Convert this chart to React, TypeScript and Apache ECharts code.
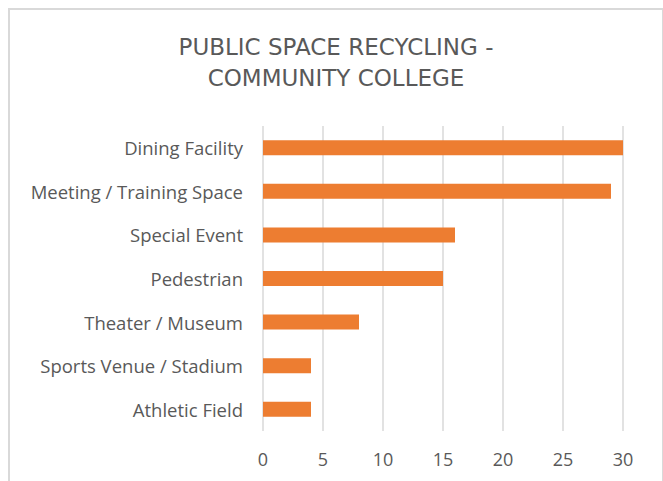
import React, { useEffect, useRef } from "react";
import * as echarts from "echarts";

const categories = [
  "Dining Facility",
  "Meeting / Training Space",
  "Special Event",
  "Pedestrian",
  "Theater / Museum",
  "Sports Venue / Stadium",
  "Athletic Field",
];
const values = [30, 29, 16, 15, 8, 4, 4];
const titleText = "PUBLIC SPACE RECYCLING -\nCOMMUNITY COLLEGE";

export default function App() {
  const ref = useRef<HTMLDivElement>(null);
  useEffect(() => {
    document.body.style.overflow = "hidden";
    document.documentElement.style.overflow = "hidden";
    const chart = echarts.init(ref.current!, undefined, { renderer: "svg" });
    chart.setOption({
      animation: false,
      backgroundColor: "#ffffff",
      title: {
        text: titleText,
        left: 331,
        top: 26,
        textAlign: "center",
        textStyle: {
          fontFamily: "DejaVu Sans",
          fontSize: 23,
          fontWeight: "normal",
          color: "#595959",
          lineHeight: 31.5,
        },
      },
      grid: { left: 263, right: 40, top: 126, bottom: 50, containLabel: false },
      xAxis: {
        type: "value",
        min: 0,
        max: 30,
        interval: 5,
        axisLine: { show: false },
        axisTick: { show: false },
        splitLine: { show: true, lineStyle: { color: "#d9d9d9", width: 1.5 } },
        axisLabel: {
          color: "#595959",
          fontFamily: "Open Sans",
          fontSize: 18,
          margin: 19,
        },
      },
      yAxis: {
        type: "category",
        data: categories,
        inverse: true,
        axisLine: { show: false },
        axisTick: { show: false },
        axisLabel: {
          color: "#595959",
          fontFamily: "Open Sans",
          fontSize: 18.5,
          margin: 20,
        },
      },
      series: [
        {
          type: "bar",
          data: values,
          barWidth: 15,
          itemStyle: { color: "#ED7D31" },
        },
      ],
    });
    return () => chart.dispose();
  }, []);
  return (
    <div style={{ position: "absolute", left: 0, top: 0, width: 663, height: 481, background: "#fff" }}>
      <div ref={ref} style={{ position: "absolute", left: 0, top: 0, width: 663, height: 481 }} />
      <div
        style={{
          position: "absolute",
          left: 8,
          top: 8,
          width: 652,
          height: 480,
          border: "2px solid #d9d9d9",
          pointerEvents: "none",
        }}
      />
    </div>
  );
}
